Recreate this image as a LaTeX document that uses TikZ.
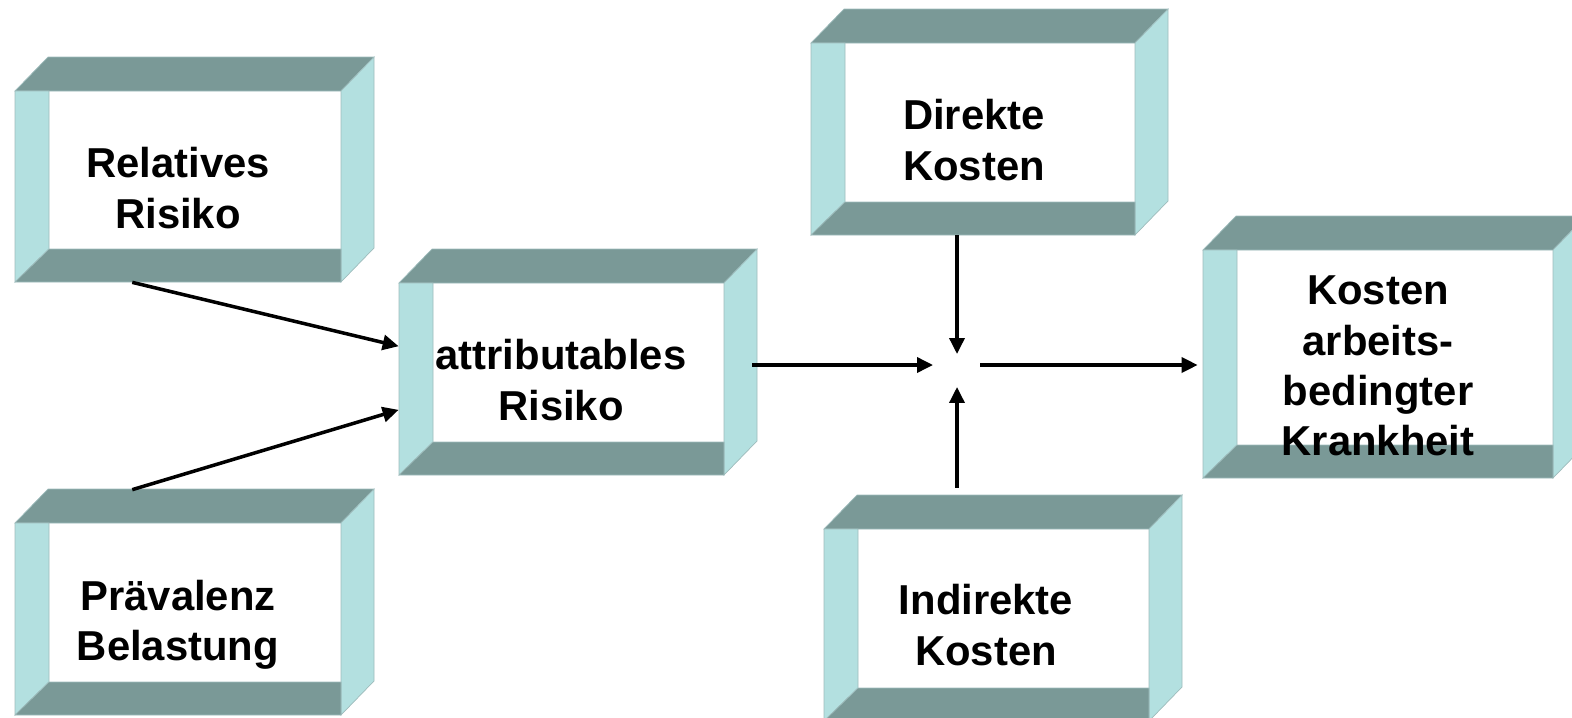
\documentclass[tikz,border=0pt]{standalone}
\usepackage{fontspec}
\setmainfont{Liberation Sans}
\usetikzlibrary{arrows.meta,calc,fit}

\definecolor{dunkelgrau}{RGB}{122,153,151}
\definecolor{hellcyan}{RGB}{179,224,224}
\definecolor{rand}{RGB}{158,188,188}

\tikzset{
    dunkel/.style={fill=dunkelgrau, draw=rand, line width=0.4pt},
    hell/.style={fill=hellcyan, draw=rand, line width=0.4pt},
    rahmen/.style={inner sep=0pt},
    kastentext/.style={inner sep=0pt, align=center,
        font=\bfseries\fontsize{23.8}{28.6}\selectfont},
    pfeil/.style={line width=2pt, -{Triangle[length=0.32cm, width=0.3cm]}},
    pics/kiste/.style 2 args={code={
        \path[dunkel] (0,0) -- (33,-34) -- (#1+33,-34) -- (#1,0) -- cycle;
        \path[hell] (#1,0) -- (#1+33,-34) -- (#1+33,#2-34) -- (#1,#2) -- cycle;
        \path[hell] (0,0) -- (34,0) -- (34,#2-33) -- (0,#2) -- cycle;
        \path[dunkel] (0,#2) -- (34,#2-33) -- (#1,#2-33) -- (#1,#2) -- cycle;
    }},
}

\begin{document}
\begin{tikzpicture}[x=0.02cm, y=-0.02cm]
\useasboundingbox (0,0) rectangle (1572,717);

% 左上:Relatives Risiko
\begin{scope}[shift={(15,91)}]
    \pic {kiste={326}{191}};
    \node[rahmen, fit={(0,0) (326,191)}] (rr) {};
    \node[kastentext] (rrtext) at (163,97) {Relatives\\Risiko};
\end{scope}

% 左下:Prävalenz Belastung
\begin{scope}[shift={(15,523)}]
    \pic {kiste={326}{192}};
    \node[rahmen, fit={(0,0) (326,192)}] (pb) {};
    \node[kastentext] (pbtext) at (163,102) {Prävalenz\\Belastung};
\end{scope}

% 中间:attributables Risiko
\begin{scope}[shift={(399,283)}]
    \pic {kiste={325}{192}};
    \node[rahmen, fit={(0,0) (325,192)}] (ar) {};
    \node[kastentext] (artext) at (162,97) {attributables\\Risiko};
\end{scope}

% 右上:Direkte Kosten
\begin{scope}[shift={(811,43)}]
    \pic {kiste={324}{192}};
    \node[rahmen, fit={(0,0) (324,192)}] (dk) {};
    \node[kastentext] (dktext) at (163,97) {Direkte\\Kosten};
\end{scope}

% 右下:Indirekte Kosten
\begin{scope}[shift={(824,529)}]
    \pic {kiste={325}{192}};
    \node[rahmen, fit={(0,0) (325,192)}] (ik) {};
    \node[kastentext] (iktext) at (162,96) {Indirekte\\Kosten};
\end{scope}

% 最右:Kosten arbeitsbedingter Krankheit
\begin{scope}[shift={(1203,250)}]
    \pic {kiste={350}{228}};
    \node[rahmen, fit={(0,0) (350,228)}] (kk) {};
    \node[kastentext] (kktext) at (175,116) {Kosten\\arbeits-\\bedingter\\Krankheit};
\end{scope}

% 箭头
\coordinate (mitte) at (957,365);
\draw[pfeil] ($(rr.south west)!0.36!(rr.south east)$) -- ($(ar.north west)!0.33!(ar.south west)$);
\draw[pfeil] ($(pb.north west)!0.36!(pb.north east)+(0,-33)$) -- ($(ar.north west)!0.66!(ar.south west)$);
\draw[pfeil, shorten >=0.48cm] ($(ar.east |- mitte)+(28,0)$) -- (mitte);
\draw[pfeil, shorten >=0.22cm] (dk.south -| mitte) -- (mitte);
\draw[pfeil, shorten >=0.44cm] ($(ik.north -| mitte)+(0,-41)$) -- (mitte);
\draw[pfeil, shorten <=0.46cm, shorten >=0.1cm] (mitte) -- (kk.west |- mitte);

\end{tikzpicture}
\end{document}
